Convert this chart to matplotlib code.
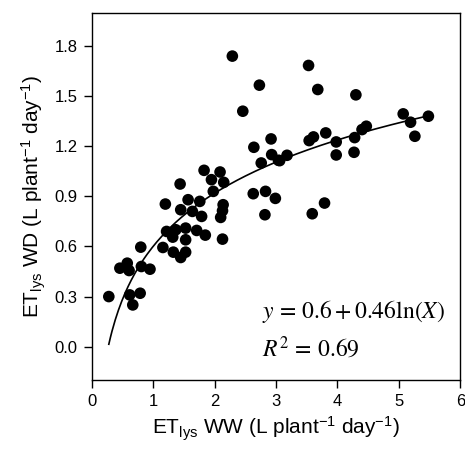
import numpy as np
import matplotlib
matplotlib.use("Agg")
import matplotlib.pyplot as plt

# ET lysimeter, well-watered (x) vs water deficit (y), L plant-1 day-1
et_ww = [2.29, 2.73, 2.46, 2.92, 2.64, 2.93, 2.76, 3.04, 1.83, 2.09,
         1.95, 2.15, 1.44, 1.98, 2.63, 2.83, 2.99, 1.57, 1.76, 1.20,
         2.14, 1.45, 1.64, 3.53, 3.68, 4.30, 5.07, 5.48, 5.19, 5.26,
         4.47, 4.40, 3.81, 3.61, 3.54, 3.98, 4.28, 3.98, 4.27, 3.18,
         3.06, 3.79, 3.59, 2.82, 2.13, 1.79, 2.10, 1.22, 1.37, 1.32,
         1.53, 1.71, 1.85, 1.53, 2.13, 1.16, 1.33, 1.53, 1.45, 0.80,
         0.58, 0.46, 0.61, 0.81, 0.95, 0.28, 0.62, 0.79, 0.67]
et_wd = [1.74, 1.566, 1.41, 1.244, 1.194, 1.15, 1.10, 1.116, 1.056, 1.046,
         1.00, 0.984, 0.974, 0.93, 0.916, 0.93, 0.888, 0.88, 0.87, 0.854,
         0.85, 0.82, 0.81, 1.684, 1.54, 1.508, 1.394, 1.38, 1.344, 1.26,
         1.32, 1.30, 1.28, 1.256, 1.234, 1.226, 1.252, 1.148, 1.164, 1.146,
         1.114, 0.86, 0.796, 0.79, 0.814, 0.78, 0.774, 0.69, 0.70, 0.656,
         0.71, 0.696, 0.668, 0.64, 0.644, 0.594, 0.566, 0.566, 0.534, 0.596,
         0.50, 0.47, 0.456, 0.48, 0.464, 0.30, 0.31, 0.32, 0.25]

# fit: y = a + b ln(x)
a, b = 0.6, 0.46
fit_x = np.linspace(0.28, 5.48, 200)
fit_y = a + b * np.log(fit_x)

plt.rcParams["font.family"] = ["Liberation Sans", "DejaVu Sans"]
plt.rcParams["mathtext.fontset"] = "custom"
plt.rcParams["mathtext.rm"] = "Liberation Sans"
plt.rcParams["mathtext.it"] = "Liberation Sans:italic"

fig = plt.figure(figsize=(4.65, 4.53), dpi=100)
ax = fig.add_axes([0.197, 0.161, 0.793, 0.811])

ax.plot(fit_x, fit_y, color="black", lw=1.2, zorder=2)
ax.scatter(et_ww, et_wd, s=70, color="black", edgecolors="none", zorder=3)

ax.set_xlim(0, 6)
ax.set_ylim(-0.2, 2.0)
ax.set_xticks(range(0, 7))
ax.set_yticks([0.0, 0.3, 0.6, 0.9, 1.2, 1.5, 1.8])
ax.set_yticklabels(["0.0", "0.3", "0.6", "0.9", "1.2", "1.5", "1.8"])
ax.tick_params(direction="out", length=6, width=1, labelsize=12, colors="black", pad=4)
for sp in ax.spines.values():
    sp.set_linewidth(1)

ax.set_xlabel(r"ET$_{\mathrm{lys}}$ WW (L plant$^{\mathrm{-1}}$ day$^{\mathrm{-1}}$)", fontsize=15, labelpad=4)
ax.set_ylabel(r"ET$_{\mathrm{lys}}$ WD (L plant$^{\mathrm{-1}}$ day$^{\mathrm{-1}}$)", fontsize=15, labelpad=5)

ax.text(2.77, 0.172, r"$y\,=\,0.6+0.46\ln(X)$", fontsize=17, math_fontfamily="stix")
ax.text(2.77, -0.06, r"$R^2\,=\,0.69$", fontsize=17, math_fontfamily="stix")

fig.savefig("out.png", dpi=100)
